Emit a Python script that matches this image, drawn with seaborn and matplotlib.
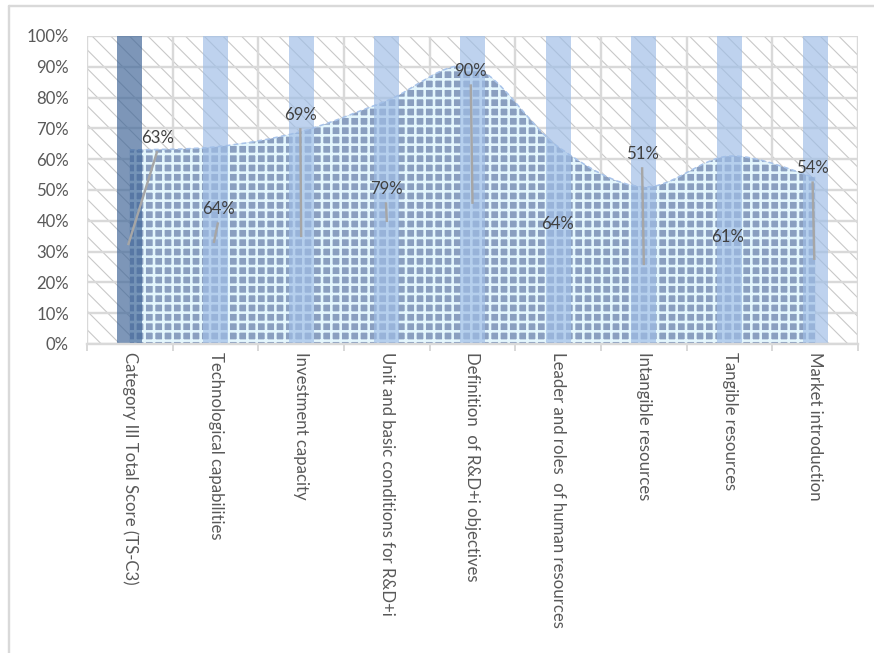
import numpy as np
import pandas as pd
import matplotlib
matplotlib.use("Agg")
import matplotlib.pyplot as plt
import seaborn as sns
from matplotlib.patches import Rectangle, PathPatch
from matplotlib.path import Path
from matplotlib.lines import Line2D

# ---- data -------------------------------------------------------------
categories = [
    "Category III Total Score (TS-C3)",
    "Technological capabilities",
    "Investment capacity",
    "Unit and basic conditions for R&D+i",
    "Definition  of R&D+i objectives",
    "Leader and roles  of human resources",
    "Intangible resources",
    "Tangible resources",
    "Market introduction",
]
scores = [63, 64, 69, 79, 90, 64, 51, 61, 54]          # percent
full_scale = [100, 100, 100, 100, 100, 100, 100, 100, 100]
value_labels = ["63%", "64%", "69%", "79%", "90%", "64%", "51%", "61%", "54%"]
y_ticks = [0, 10, 20, 30, 40, 50, 60, 70, 80, 90, 100]

# ---- label placement (x, y of text; leader line end or None) ----------
label_pos = [(0.32, 66.9), (1.03, 43.8), (1.99, 74.4), (2.99, 50.3), (3.98, 88.6),
             (4.99, 39.0), (5.98, 61.7), (6.98, 34.7), (7.97, 57.1)]
leader_end = [(-0.02, 32.1), (0.98, 32.8), (2.0, 34.7), (3.0, 39.6), (4.0, 45.5),
              None, (6.0, 25.6), None, (7.99, 27.3)]

sns.set_theme(style="white")
plt.rcParams["font.family"] = ["Lato", "DejaVu Sans"]

W, H, DPI = 874, 653, 112


def pt(px):
    """Convert a size in pixels to points at the output resolution."""
    return px * 72.0 / DPI


fig = plt.figure(figsize=(W / DPI, H / DPI), dpi=DPI)
ax = fig.add_axes([87 / W, 1 - 344 / H, (858 - 87) / W, (344 - 36) / H])

grid_c = "#d9d9d9"
text_c = "#595959"
FS = pt(16.7)

# hatched plot background
with plt.rc_context({"hatch.linewidth": pt(1.1), "hatch.color": "#c8c8c8"}):
    bg = Rectangle((0, 0), 1, 1, transform=ax.transAxes, facecolor="white",
                   edgecolor="#c8c8c8", hatch="\\\\", linewidth=0, zorder=0)
    ax.add_patch(bg)

# smoothed curve through the scores (cubic Bezier, Catmull-Rom control points)
xs = np.arange(len(scores), dtype=float)
ys = np.array(scores, dtype=float)
curve_verts = [(xs[0], ys[0])]
curve_codes = [Path.MOVETO]
n = len(xs)
for i in range(n - 1):
    p0 = np.array([xs[max(i - 1, 0)], ys[max(i - 1, 0)]])
    p1 = np.array([xs[i], ys[i]])
    p2 = np.array([xs[i + 1], ys[i + 1]])
    p3 = np.array([xs[min(i + 2, n - 1)], ys[min(i + 2, n - 1)]])
    c1 = p1 + (p2 - p0) / 6.0
    c2 = p2 - (p3 - p1) / 6.0
    curve_verts += [tuple(c1), tuple(c2), tuple(p2)]
    curve_codes += [Path.CURVE4] * 3
top_path = Path(curve_verts, curve_codes)

area_verts = [(xs[0], 0.0)] + curve_verts + [(xs[-1], 0.0), (xs[0], 0.0)]
area_codes = [Path.MOVETO, Path.LINETO] + curve_codes[1:] + [Path.LINETO, Path.CLOSEPOLY]
area_path = Path(area_verts, area_codes)

ax.add_patch(PathPatch(area_path, facecolor="#8a9fc0", edgecolor="none", zorder=1))
with plt.rc_context({"hatch.linewidth": pt(2.6)}):
    ax.add_patch(PathPatch(area_path, facecolor="none", edgecolor="#e4f6fd",
                           hatch="++", linewidth=0, zorder=1.1))
ax.add_patch(PathPatch(top_path, facecolor="none", edgecolor="#a9c4ea",
                       linewidth=pt(1.6), linestyle=(0, (3, 2)), zorder=1.2))

# full-height category bars
df = pd.DataFrame({"category": categories, "scale": full_scale})
bar_colors = ["#3f6597"] + ["#9fbde6"] * (len(categories) - 1)
sns.barplot(data=df, x="category", y="scale", hue="category", palette=bar_colors,
            width=0.29, alpha=0.68, legend=False, ax=ax, zorder=2,
            linewidth=0, saturation=1)

# data labels with leader lines
for lab, (tx, ty), end in zip(value_labels, label_pos, leader_end):
    ax.text(tx, ty, lab, ha="center", va="center", fontsize=FS, color="#404040", zorder=4)
    if end is not None:
        ax.plot([tx, end[0]], [ty - 4.3, end[1]], color="#a6a6a6", lw=pt(2.4),
                zorder=3, solid_capstyle="butt")

# axes, grid and ticks
ax.set_xlim(-0.5, len(categories) - 0.5)
ax.set_ylim(0, 100)
ax.set_yticks(y_ticks)
ax.set_yticklabels([f"{v}%" for v in y_ticks])
ax.set_xticks(range(len(categories)))
ax.set_xticklabels(categories, rotation=270, va="top", ha="center")
ax.set_xticks(np.arange(-0.5, len(categories)), minor=True)
ax.set_xlabel("")
ax.set_ylabel("")
ax.set_axisbelow(True)
ax.yaxis.grid(True, color=grid_c, lw=pt(2.4), zorder=0.5)
ax.xaxis.grid(True, which="minor", color=grid_c, lw=pt(2.4), zorder=0.5)
ax.xaxis.grid(False, which="major")
ax.tick_params(axis="x", which="major", length=0, pad=pt(8), labelsize=FS, labelcolor=text_c)
ax.tick_params(axis="x", which="minor", length=pt(7), width=pt(2), color=grid_c,
               direction="out", bottom=True)
ax.tick_params(axis="y", length=0, pad=pt(18), labelsize=FS, labelcolor=text_c)
for s in ["top", "right", "left"]:
    ax.spines[s].set_visible(False)
ax.spines["bottom"].set_color(grid_c)
ax.spines["bottom"].set_linewidth(pt(2.4))

# outer chart frame
fig.add_artist(Line2D([9 / W, 1.0], [1 - 6 / H, 1 - 6 / H], color=grid_c, lw=pt(2.4)))
fig.add_artist(Line2D([9 / W, 9 / W], [0.0, 1 - 6 / H], color=grid_c, lw=pt(2.4)))

fig.savefig("out.png", dpi=DPI, facecolor="white")
